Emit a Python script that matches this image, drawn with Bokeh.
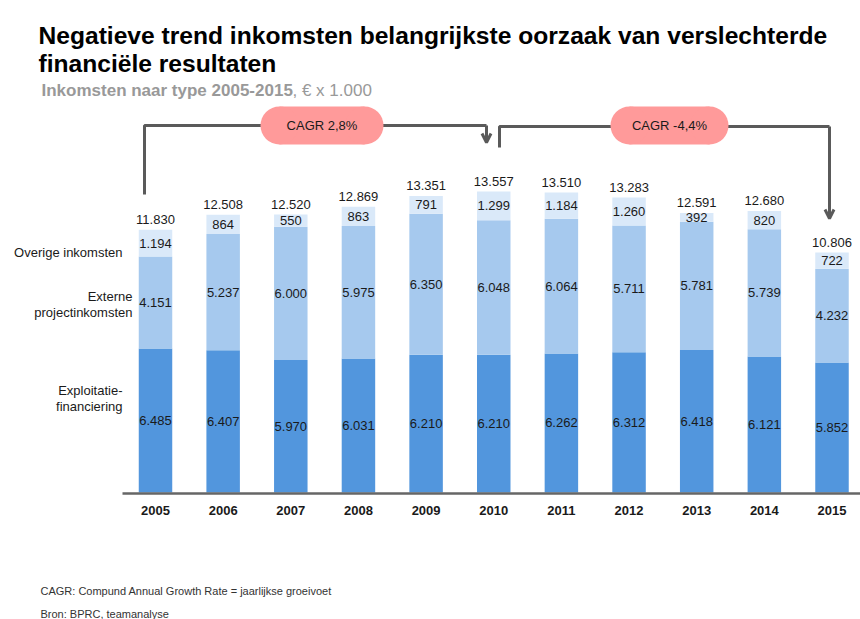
from bokeh.plotting import figure
from bokeh.models import ColumnDataSource, Range1d, Arrow, OpenHead
from bokeh.core.properties import value
from bokeh.embed import file_html
from bokeh.resources import INLINE

# ---------------- data ----------------
years = ["2005", "2006", "2007", "2008", "2009", "2010", "2011", "2012", "2013", "2014", "2015"]
exploitatie = [6485, 6407, 5970, 6031, 6210, 6210, 6262, 6312, 6418, 6121, 5852]
extern = [4151, 5237, 6000, 5975, 6350, 6048, 6064, 5711, 5781, 5739, 4232]
overig = [1194, 864, 550, 863, 791, 1299, 1184, 1260, 392, 820, 722]
totals = [11830, 12508, 12520, 12869, 13351, 13557, 13510, 13283, 12591, 12680, 10806]
cagr_labels = ["CAGR 2,8%", "CAGR -4,4%"]

title_lines = ["Negatieve trend inkomsten belangrijkste oorzaak van verslechterde",
               "financiële resultaten"]
subtitle_bold = "Inkomsten naar type 2005-2015"
subtitle_rest = ", € x 1.000"
footnotes = ["CAGR: Compund  Annual Growth Rate = jaarlijkse groeivoet",
             "Bron: BPRC, teamanalyse"]

# ---------------- layout helpers ----------------
W, H = 860, 619
PX0 = 155.0      # pixel centre of first category
STEP = 67.65     # pixels per category
BASE = 492.0     # pixel row of value 0
SCALE = 0.0222   # pixels per unit


def dx(px):
    return (px - PX0) / STEP


def dy(py):
    return (BASE - py) / SCALE


def fmt(v):
    return f"{v:,}".replace(",", ".")


FONT = value("Liberation Sans")
C_DARK = "#5296DD"
C_MID = "#A6C9EE"
C_LIGHT = "#DAE9F9"
GREY_LINE = "#5A5A5A"

idx = list(range(len(years)))
mid1 = [a / 2 for a in exploitatie]
mid2 = [a + b / 2 for a, b in zip(exploitatie, extern)]
mid3 = [a + b + c / 2 for a, b, c in zip(exploitatie, extern, overig)]
tops = [a + b + c for a, b, c in zip(exploitatie, extern, overig)]

src = ColumnDataSource(dict(
    x=idx, years=years,
    exploitatie=exploitatie, extern=extern, overig=overig,
    mid1=mid1, mid2=mid2, mid3=mid3, tops=tops,
    t1=[fmt(v) for v in exploitatie],
    t2=[fmt(v) for v in extern],
    t3=[fmt(v) for v in overig],
    tt=[fmt(v) for v in totals],
    ylab=[dy(510)] * len(years),
))

p = figure(width=W, height=H,
           x_range=Range1d(dx(0), dx(W)), y_range=Range1d(dy(H), dy(0)),
           x_axis_type=None, y_axis_type=None,
           output_backend="svg", toolbar_location=None, min_border=0)
p.grid.visible = False
p.outline_line_color = None
p.background_fill_color = "white"
p.border_fill_color = "white"

# stacked bars
p.vbar_stack(["exploitatie", "extern", "overig"], x="x", width=0.495,
             color=[C_DARK, C_MID, C_LIGHT], line_color=None, source=src)

# axis line
p.segment(x0=[dx(122)], y0=[dy(493)], x1=[dx(W)], y1=[dy(493)],
          line_color="#666666", line_width=2.6)

# value labels in segments
for col, ycol in [("t1", "mid1"), ("t2", "mid2"), ("t3", "mid3")]:
    p.text(x="x", y=ycol, text=col, source=src, text_font=FONT,
           text_font_size="13px", text_align="center", text_baseline="middle",
           text_color="#1a1a1a")

# totals above bars
p.text(x="x", y="tops", text="tt", source=src, text_font=FONT,
       text_font_size="13px", text_align="center", text_baseline="bottom",
       y_offset=-6, text_color="#1a1a1a")

# year labels
p.text(x="x", y="ylab", text="years", source=src, text_font=FONT,
       text_font_size="13px", text_font_style="bold", text_align="center",
       text_baseline="middle", text_color="#1a1a1a")

# series labels on the left
left_labels = [
    ("Overige inkomsten", 122, 252),
    ("Externe", 132, 296),
    ("projectinkomsten", 132, 311.5),
    ("Exploitatie-", 122, 390),
    ("financiering", 122, 405.5),
]
p.text(x=[dx(a[1]) for a in left_labels], y=[dy(a[2]) for a in left_labels],
       text=[a[0] for a in left_labels], text_font=FONT, text_font_size="13px",
       text_align="right", text_baseline="middle", text_color="#1a1a1a")

# title
p.text(x=[dx(38), dx(38)], y=[dy(34.5), dy(63)], text=title_lines,
       text_font=FONT, text_font_size="24.6px", text_font_style="bold",
       text_align="left", text_baseline="alphabetic", text_color="#000000")
p.text(x=[dx(41)], y=[dy(90)], text=[subtitle_bold], text_font=FONT,
       text_font_size="17px", text_font_style="bold", text_align="left",
       text_baseline="alphabetic", text_color="#999999")
p.text(x=[dx(292)], y=[dy(90)], text=[subtitle_rest], text_font=FONT,
       text_font_size="17px", text_align="left",
       text_baseline="alphabetic", text_color="#999999")

# footnotes
p.text(x=[dx(40), dx(40)], y=[dy(590.5), dy(613)], text=footnotes,
       text_font=FONT, text_font_size="11px", text_align="left",
       text_baseline="middle", text_color="#333333")

# CAGR brackets
p.line(x=[dx(144), dx(144), dx(486)], y=[dy(194), dy(125), dy(125)],
       line_color=GREY_LINE, line_width=3)
p.add_layout(Arrow(x_start=dx(486), y_start=dy(125), x_end=dx(486), y_end=dy(142),
                   line_color=GREY_LINE, line_width=3,
                   end=OpenHead(size=9, line_color=GREY_LINE, line_width=3)))
p.line(x=[dx(499), dx(499), dx(829)], y=[dy(147), dy(126), dy(126)],
       line_color=GREY_LINE, line_width=3)
p.add_layout(Arrow(x_start=dx(829), y_start=dy(126), x_end=dx(829), y_end=dy(218),
                   line_color=GREY_LINE, line_width=3,
                   end=OpenHead(size=9, line_color=GREY_LINE, line_width=3)))

# CAGR pills
pills = [(321.5, 125, 123, 38), (669, 125, 118, 38)]
PINK = "#FF9A9A"
for (cx, cy, w, h), lab in zip(pills, cagr_labels):
    p.rect(x=[dx(cx)], y=[dy(cy)], width=w - h, height=h,
           width_units="screen", height_units="screen",
           fill_color=PINK, line_color=None)
    p.scatter(x=[dx(cx - (w - h) / 2), dx(cx + (w - h) / 2)], y=[dy(cy)] * 2,
              size=h, marker="circle", fill_color=PINK, line_color=None)
    p.text(x=[dx(cx)], y=[dy(cy)], text=[lab], text_font=FONT,
           text_font_size="13px", text_align="center", text_baseline="middle",
           text_color="#1a1a1a")

open("out.html", "w").write(file_html(p, INLINE))
